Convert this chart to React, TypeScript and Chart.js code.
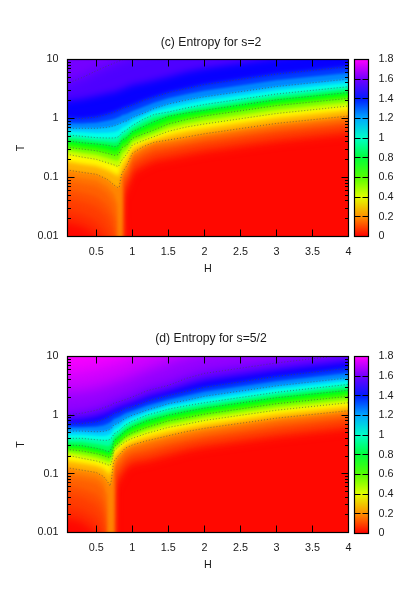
import React, { useEffect, useRef } from "react";
import { Chart, registerables } from "chart.js";

Chart.register(...registerables);

// ---------- shared axis values ----------
const xTickValues = [0.5, 1, 1.5, 2, 2.5, 3, 3.5, 4];
const yMajorTicks = [0.01, 0.1, 1, 10];
const yAllTicks = [
  0.01, 0.02, 0.03, 0.04, 0.05, 0.06, 0.07, 0.08, 0.09,
  0.1, 0.2, 0.3, 0.4, 0.5, 0.6, 0.7, 0.8, 0.9,
  1, 2, 3, 4, 5, 6, 7, 8, 9, 10,
];
const colorbarTicks = [0, 0.2, 0.4, 0.6, 0.8, 1, 1.2, 1.4, 1.6, 1.8];
const contourLevels = [0.2, 0.4, 0.6, 0.8, 1, 1.2, 1.4, 1.6];

// ---------- (c) s=2: log10(T) of each entropy contour, per H column ----------
const cH = [0.1, 0.3, 0.5, 0.65, 0.75, 0.8, 0.82, 0.835, 0.855, 0.92, 1, 1.15, 1.3, 1.5, 1.75, 2, 3, 4];
const cS160 = [0.597, 0.692, 0.81, 0.89, 0.941, 0.966, 0.975, 0.983, 0.992, 1.025, 1.059, 1.11, 1.161, 1.229, 1.314, 1.381, 1.551, 1.669];
const cS150 = [0.297, 0.331, 0.381, 0.424, 0.449, 0.466, 0.475, 0.483, 0.5, 0.525, 0.568, 0.602, 0.644, 0.703, 0.788, 0.847, 1.025, 1.144];
const cS140 = [0.003, 0, 0.025, 0.071, 0.11, 0.136, 0.144, 0.153, 0.169, 0.195, 0.229, 0.305, 0.364, 0.441, 0.508, 0.576, 0.754, 0.878];
const cS130 = [-0.081, -0.083, -0.071, -0.039, -0.007, 0.019, 0.027, 0.036, 0.053, 0.076, 0.122, 0.197, 0.266, 0.342, 0.41, 0.471, 0.647, 0.771];
const cS120 = [-0.166, -0.166, -0.166, -0.149, -0.122, -0.098, -0.088, -0.081, -0.064, -0.042, 0.017, 0.088, 0.169, 0.246, 0.314, 0.368, 0.542, 0.669];
const cS110 = [-0.224, -0.234, -0.246, -0.241, -0.227, -0.207, -0.193, -0.178, -0.153, -0.119, -0.051, 0.037, 0.119, 0.178, 0.246, 0.303, 0.48, 0.605];
const cS100 = [-0.28, -0.302, -0.325, -0.331, -0.331, -0.314, -0.297, -0.275, -0.241, -0.195, -0.119, -0.014, 0.068, 0.11, 0.178, 0.237, 0.415, 0.539];
const cS090 = [-0.331, -0.356, -0.38, -0.393, -0.405, -0.39, -0.368, -0.339, -0.303, -0.261, -0.171, -0.076, 0.007, 0.073, 0.136, 0.188, 0.366, 0.49];
const cS080 = [-0.381, -0.41, -0.432, -0.454, -0.478, -0.466, -0.437, -0.403, -0.364, -0.325, -0.224, -0.139, -0.054, 0.037, 0.093, 0.139, 0.317, 0.441];
const cS070 = [-0.432, -0.463, -0.488, -0.522, -0.551, -0.539, -0.508, -0.475, -0.429, -0.39, -0.28, -0.2, -0.124, -0.029, 0.037, 0.09, 0.268, 0.392];
const cS060 = [-0.488, -0.517, -0.546, -0.59, -0.624, -0.614, -0.58, -0.546, -0.495, -0.454, -0.336, -0.263, -0.195, -0.093, -0.017, 0.042, 0.219, 0.342];
const cS050 = [-0.542, -0.58, -0.614, -0.664, -0.703, -0.712, -0.681, -0.644, -0.593, -0.527, -0.392, -0.319, -0.251, -0.154, -0.08, -0.025, 0.153, 0.278];
const cS040 = [-0.607, -0.653, -0.692, -0.749, -0.788, -0.817, -0.788, -0.749, -0.703, -0.607, -0.449, -0.376, -0.308, -0.217, -0.144, -0.093, 0.085, 0.212];
const cS030 = [-0.729, -0.771, -0.805, -0.873, -0.932, -0.975, -0.941, -0.873, -0.797, -0.686, -0.508, -0.424, -0.356, -0.288, -0.22, -0.169, 0.008, 0.136];
const cS020 = [-0.873, -0.912, -0.946, -1.031, -1.132, -1.173, -1.156, -1.042, -0.929, -0.805, -0.59, -0.478, -0.403, -0.364, -0.314, -0.259, -0.083, 0.042];
const cS0175 = [-0.966, -1.007, -1.045, -1.147, -1.282, -1.46, -4, -4, -0.985, -0.856, -0.634, -0.519, -0.441, -0.402, -0.352, -0.295, -0.122, 0.004];
const cS015 = [-1.059, -1.102, -1.144, -1.263, -1.432, -1.754, -4, -4, -1.042, -0.907, -0.678, -0.56, -0.48, -0.44, -0.39, -0.33, -0.16, -0.035];
const cS0125 = [-1.203, -1.25, -1.313, -1.458, -1.678, -2.12, -4, -4, -1.11, -0.957, -0.724, -0.61, -0.527, -0.482, -0.427, -0.372, -0.2, -0.072];
const cS010 = [-1.347, -1.398, -1.483, -1.653, -1.924, -2.483, -4, -4, -1.178, -1.008, -0.771, -0.66, -0.575, -0.525, -0.465, -0.415, -0.24, -0.11];
const cS0075 = [-1.55, -1.61, -1.72, -1.94, -2.29, -3.1, -4, -4, -1.26, -1.09, -0.85, -0.74, -0.655, -0.607, -0.548, -0.492, -0.32, -0.187];
const cS005 = [-1.754, -1.822, -1.958, -2.229, -2.653, -3.754, -4, -4, -1.347, -1.178, -0.924, -0.82, -0.735, -0.69, -0.63, -0.57, -0.4, -0.265];
const cLevels: [number, number[]][] = [
  [1.6, cS160], [1.5, cS150], [1.4, cS140], [1.3, cS130], [1.2, cS120], [1.1, cS110],
  [1, cS100], [0.9, cS090], [0.8, cS080], [0.7, cS070], [0.6, cS060], [0.5, cS050],
  [0.4, cS040], [0.3, cS030], [0.2, cS020], [0.175, cS0175], [0.15, cS015], [0.125, cS0125],
  [0.1, cS010], [0.075, cS0075], [0.05, cS005],
];

// ---------- (d) s=5/2 ----------
const dH = [0.1, 0.3, 0.5, 0.6, 0.66, 0.69, 0.71, 0.725, 0.74, 0.81, 0.9, 1, 1.2, 1.5, 1.75, 2, 3, 4];
const dS178 = [0.85, 0.88, 0.93, 0.96, 0.98, 0.99, 1, 1.005, 1.02, 1.04, 1.08, 1.12, 1.373, 1.508, 1.61, 1.695, 1.881, 2.017];
const dS175 = [0.661, 0.695, 0.746, 0.78, 0.797, 0.805, 0.814, 0.822, 0.831, 0.856, 0.898, 0.949, 1.051, 1.186, 1.288, 1.373, 1.559, 1.695];
const dS170 = [0.39, 0.407, 0.458, 0.492, 0.508, 0.517, 0.525, 0.534, 0.542, 0.576, 0.61, 0.661, 0.763, 0.898, 1, 1.085, 1.271, 1.407];
const dS160 = [0.008, 0.034, 0.085, 0.127, 0.153, 0.164, 0.175, 0.186, 0.203, 0.229, 0.263, 0.31, 0.415, 0.508, 0.627, 0.712, 0.89, 1.034];
const dS150 = [-0.068, -0.059, -0.017, 0.025, 0.051, 0.068, 0.076, 0.093, 0.114, 0.141, 0.186, 0.22, 0.322, 0.424, 0.508, 0.593, 0.771, 0.915];
const dS140 = [-0.141, -0.141, -0.114, -0.073, -0.034, -0.017, -0.005, 0.012, 0.029, 0.056, 0.114, 0.144, 0.237, 0.334, 0.407, 0.475, 0.661, 0.802];
const dS130 = [-0.207, -0.207, -0.198, -0.175, -0.147, -0.127, -0.114, -0.093, -0.071, -0.037, 0.029, 0.071, 0.161, 0.264, 0.331, 0.398, 0.58, 0.719];
const dS120 = [-0.271, -0.271, -0.283, -0.276, -0.259, -0.237, -0.22, -0.198, -0.169, -0.131, -0.056, 0, 0.085, 0.195, 0.254, 0.322, 0.5, 0.636];
const dS110 = [-0.332, -0.332, -0.351, -0.353, -0.344, -0.325, -0.305, -0.285, -0.246, -0.2, -0.112, -0.051, 0.042, 0.149, 0.208, 0.268, 0.446, 0.581];
const dS100 = [-0.395, -0.395, -0.419, -0.429, -0.429, -0.412, -0.39, -0.373, -0.322, -0.271, -0.169, -0.102, 0, 0.102, 0.161, 0.212, 0.39, 0.525];
const dS090 = [-0.451, -0.458, -0.492, -0.512, -0.525, -0.512, -0.478, -0.451, -0.381, -0.319, -0.22, -0.149, -0.047, 0.051, 0.112, 0.166, 0.344, 0.475];
const dS080 = [-0.508, -0.52, -0.564, -0.593, -0.622, -0.61, -0.564, -0.531, -0.441, -0.368, -0.271, -0.198, -0.097, 0, 0.063, 0.119, 0.297, 0.424];
const dS070 = [-0.546, -0.564, -0.61, -0.641, -0.666, -0.666, -0.62, -0.581, -0.493, -0.419, -0.319, -0.249, -0.153, -0.047, 0.01, 0.068, 0.246, 0.373];
const dS060 = [-0.585, -0.61, -0.656, -0.69, -0.712, -0.724, -0.678, -0.632, -0.547, -0.469, -0.368, -0.3, -0.208, -0.097, -0.042, 0.017, 0.195, 0.322];
const dS050 = [-0.634, -0.671, -0.717, -0.754, -0.78, -0.792, -0.739, -0.683, -0.585, -0.503, -0.41, -0.347, -0.259, -0.153, -0.097, -0.036, 0.141, 0.268];
const dS040 = [-0.683, -0.734, -0.78, -0.819, -0.847, -0.859, -0.802, -0.734, -0.622, -0.537, -0.453, -0.395, -0.31, -0.208, -0.153, -0.09, 0.085, 0.212];
const dS030 = [-0.78, -0.819, -0.864, -0.915, -0.983, -1.025, -0.932, -0.814, -0.695, -0.61, -0.508, -0.449, -0.373, -0.28, -0.215, -0.158, 0.017, 0.144];
const dS020 = [-0.898, -0.937, -0.978, -1.046, -1.141, -1.208, -1.102, -0.932, -0.792, -0.69, -0.564, -0.508, -0.436, -0.351, -0.28, -0.225, -0.051, 0.076];
const dS0175 = [-0.983, -1.02, -1.065, -1.158, -1.375, -4, -4, -4, -0.862, -0.743, -0.612, -0.55, -0.485, -0.395, -0.328, -0.27, -0.093, 0.038];
const dS015 = [-1.068, -1.102, -1.153, -1.271, -1.61, -4, -4, -4, -0.932, -0.797, -0.661, -0.593, -0.535, -0.44, -0.375, -0.315, -0.135, 0];
const dS0125 = [-1.2, -1.246, -1.33, -1.483, -1.86, -4, -4, -4, -1, -0.865, -0.712, -0.644, -0.59, -0.49, -0.42, -0.36, -0.182, -0.034];
const dS010 = [-1.339, -1.39, -1.508, -1.695, -2.119, -4, -4, -4, -1.068, -0.932, -0.763, -0.695, -0.645, -0.54, -0.465, -0.405, -0.23, -0.085];
const dS0075 = [-1.54, -1.6, -1.75, -1.99, -2.54, -4, -4, -4, -1.17, -1.017, -0.84, -0.763, -0.72, -0.618, -0.538, -0.478, -0.303, -0.163];
const dS005 = [-1.746, -1.814, -2, -2.288, -2.966, -4, -4, -4, -1.271, -1.102, -0.915, -0.831, -0.795, -0.695, -0.61, -0.55, -0.375, -0.24];
const dLevels: [number, number[]][] = [
  [1.78, dS178], [1.75, dS175], [1.7, dS170], [1.6, dS160], [1.5, dS150], [1.4, dS140], [1.3, dS130],
  [1.2, dS120], [1.1, dS110], [1, dS100], [0.9, dS090], [0.8, dS080], [0.7, dS070], [0.6, dS060],
  [0.5, dS050], [0.4, dS040], [0.3, dS030], [0.2, dS020], [0.175, dS0175], [0.15, dS015],
  [0.125, dS0125], [0.1, dS010], [0.075, dS0075], [0.05, dS005],
];

const FONT = "'Liberation Sans', Arial, sans-serif";
const FONT_SIZE = 10.8;
const TITLE_SIZE = 12.2;
const INK = "#1a1a1a";

// Rainbow palette: hue runs red to magenta over the colour-box range 0..1.8
const paletteColor = (s: number) => `hsl(${(s / 1.8) * 300}, 100%, 50%)`;

// wide bands get a soft edge so the colour ramps without visible steps
const softness = (s: number) => {
  if (s <= 0.05) return 4;
  if (s <= 0.075) return 3.5;
  if (s <= 0.1) return 3;
  if (s <= 0.125) return 2.5;
  if (s <= 0.15) return 2;
  if (s <= 0.175) return 1.5;
  if (s <= 0.2) return 1.8;
  if (s <= 0.3) return 2;
  if (s <= 0.4) return 1.5;
  if (s <= 1.3) return 1.2;
  if (s <= 1.4) return 2;
  if (s <= 1.5) return 3.5;
  return 6;
};

const crisp = (p: number) => Math.floor(p) + 0.5;

function points(H: number[], logT: number[]) {
  const pts = H.map((h, i) => ({ x: h, y: Math.pow(10, logT[i]) }));
  // carried past the frame so the soft edge falls outside the clipped area
  return [{ x: H[0] - 0.3, y: pts[0].y }, ...pts, { x: H[H.length - 1] + 0.3, y: pts[pts.length - 1].y }];
}

const filterFor = (chart: any, index: number) => {
  const ds = chart.data.datasets[index];
  return ds && ds.soft ? `blur(${ds.soft}px)` : "none";
};

const heatPlugin = {
  id: "heat",
  beforeDatasetsDraw(chart: any) {
    const { ctx, chartArea: a } = chart;
    ctx.save();
    ctx.fillStyle = paletteColor(0.012);
    ctx.fillRect(a.left, a.top, a.right - a.left, a.bottom - a.top);
    ctx.restore();
    // datasets are painted from the last index to the first
    ctx.filter = filterFor(chart, chart.data.datasets.length - 1);
  },
  afterDatasetDraw(chart: any, args: any) {
    chart.ctx.filter = filterFor(chart, args.index - 1);
  },
  afterDatasetsDraw(chart: any) {
    const { ctx, chartArea: a, scales } = chart;
    ctx.filter = "none";
    ctx.save();
    ctx.strokeStyle = "#000";
    ctx.lineWidth = 1;
    ctx.beginPath();
    const l = crisp(a.left), r = crisp(a.right), t = crisp(a.top), b = crisp(a.bottom);
    for (const v of yAllTicks) {
      const y = crisp(scales.y.getPixelForValue(v));
      const len = yMajorTicks.includes(v) ? 7 : 3.5;
      ctx.moveTo(l, y); ctx.lineTo(l + len, y);
      ctx.moveTo(r, y); ctx.lineTo(r - len, y);
    }
    for (const v of xTickValues) {
      const x = crisp(scales.x.getPixelForValue(v));
      ctx.moveTo(x, b); ctx.lineTo(x, b - 7);
      ctx.moveTo(x, t); ctx.lineTo(x, t + 7);
    }
    ctx.stroke();
    ctx.lineWidth = 1.2;
    ctx.strokeRect(l, t, r - l, b - t);
    ctx.restore();
  },
};

const barFramePlugin = {
  id: "barFrame",
  afterDatasetsDraw(chart: any) {
    const { ctx, chartArea: a, scales } = chart;
    ctx.save();
    ctx.strokeStyle = "#000";
    ctx.lineWidth = 1;
    ctx.beginPath();
    const l = crisp(a.left), r = crisp(a.right), t = crisp(a.top), b = crisp(a.bottom);
    for (const v of colorbarTicks.slice(1, -1)) {
      const y = crisp(scales.y.getPixelForValue(v));
      ctx.moveTo(l, y); ctx.lineTo(l + 6, y);
      ctx.moveTo(r, y); ctx.lineTo(r - 6, y);
    }
    ctx.stroke();
    ctx.lineWidth = 1.2;
    ctx.strokeRect(l, t, r - l, b - t);
    ctx.restore();
  },
};

function makePlot(canvas: HTMLCanvasElement, H: number[], levels: [number, number[]][], titleText: string, areaTop: number, maxS: number) {
  const contourSets = levels
    .filter(([s]) => contourLevels.includes(s))
    .map(([s, logT]) => ({
      label: `S=${s}`,
      data: points(H, logT),
      fill: false,
      borderColor: "rgba(70,70,70,0.6)",
      borderWidth: 1,
      borderDash: [1, 2],
      pointRadius: 0,
      tension: 0,
    }));
  const bandSets = levels.map(([s, logT], i) => {
    const upper = i === 0 ? maxS : levels[i - 1][0];
    return {
      label: `band ${s}`,
      soft: softness(s),
      data: points(H, logT),
      fill: { target: { value: 1e5 } },
      backgroundColor: paletteColor((s + upper) / 2),
      borderWidth: 0,
      pointRadius: 0,
      tension: 0,
    };
  });
  return new Chart(canvas, {
    type: "line",
    data: { datasets: [...contourSets, ...bandSets] as any },
    plugins: [heatPlugin],
    options: {
      responsive: false,
      animation: false,
      layout: { padding: 0 },
      plugins: {
        legend: { display: false },
        tooltip: { enabled: false },
        title: {
          display: true,
          text: titleText,
          color: INK,
          font: { family: FONT, size: TITLE_SIZE, weight: "normal", lineHeight: 1.2 },
          padding: { top: 35, bottom: areaTop - 49.64 },
        },
      },
      scales: {
        x: {
          type: "linear",
          min: 0.1,
          max: 4,
          afterBuildTicks: (s: any) => { s.ticks = xTickValues.map((value) => ({ value })); },
          afterFit: (s: any) => { s.height = 59.5; },
          grid: { display: false, drawTicks: false },
          border: { display: false },
          ticks: { autoSkip: false, maxRotation: 0, color: INK, padding: 9, font: { family: FONT, size: FONT_SIZE }, callback: (v: any) => String(v) },
          title: { display: true, text: "H", color: INK, font: { family: FONT, size: FONT_SIZE, lineHeight: 1.2 }, padding: { top: 0, bottom: 20 } },
        },
        y: {
          type: "logarithmic",
          min: 0.01,
          max: 10,
          afterBuildTicks: (s: any) => { s.ticks = yAllTicks.map((value) => ({ value, major: yMajorTicks.includes(value) })); },
          afterFit: (s: any) => { s.width = 63.5; },
          grid: { display: false, drawTicks: false },
          border: { display: false },
          ticks: { autoSkip: false, color: INK, padding: 9, font: { family: FONT, size: FONT_SIZE }, callback: (v: any) => (yMajorTicks.includes(v) ? String(v) : "") },
          title: { display: true, text: "T", color: INK, font: { family: FONT, size: FONT_SIZE, lineHeight: 1.2 }, padding: { top: 11, bottom: 0 } },
        },
        // empty right-hand box: keeps room for the colour box while the title centres on the whole canvas
        spacer: {
          type: "linear",
          position: "right",
          afterFit: (s: any) => { s.width = 69.5; },
          grid: { display: false, drawTicks: false },
          border: { display: false },
          ticks: { display: false },
        },
      },
    } as any,
  });
}

function makeBar(canvas: HTMLCanvasElement, areaTop: number, canvasHeight: number, areaBottom: number) {
  const fillGradient = (ctx: any) => {
    const a = ctx.chart.chartArea;
    if (!a) return paletteColor(0);
    const g = ctx.chart.ctx.createLinearGradient(0, a.bottom, 0, a.top);
    for (const s of colorbarTicks) g.addColorStop(s / 1.8, paletteColor(s));
    return g;
  };
  return new Chart(canvas, {
    type: "bar",
    data: { labels: ["S"], datasets: [{ label: "S", data: [[0, 1.8]] as any, backgroundColor: fillGradient as any, barPercentage: 1, categoryPercentage: 1, borderWidth: 0 }] },
    plugins: [barFramePlugin],
    options: {
      responsive: false,
      animation: false,
      layout: { padding: { left: 9, right: 0, top: areaTop, bottom: canvasHeight - areaBottom } },
      plugins: { legend: { display: false }, tooltip: { enabled: false } },
      scales: {
        x: { display: false },
        y: {
          position: "right",
          min: 0,
          max: 1.8,
          afterBuildTicks: (s: any) => { s.ticks = colorbarTicks.map((value) => ({ value })); },
          afterFit: (s: any) => { s.width = 46.5; },
          grid: { display: false, drawTicks: false },
          border: { display: false },
          ticks: { autoSkip: false, color: INK, padding: 10, font: { family: FONT, size: FONT_SIZE }, callback: (v: any) => String(v) },
        },
      },
    } as any,
  });
}

export default function App() {
  const c1 = useRef<HTMLCanvasElement>(null);
  const c2 = useRef<HTMLCanvasElement>(null);
  const b1 = useRef<HTMLCanvasElement>(null);
  const b2 = useRef<HTMLCanvasElement>(null);
  useEffect(() => {
    const charts = [
      makePlot(c1.current!, cH, cLevels, "(c) Entropy for s=2", 59.5, 1.609),
      makePlot(c2.current!, dH, dLevels, "(d) Entropy for s=5/2", 60.5, 1.8),
      makeBar(b1.current!, 59.5, 296, 236.5),
      makeBar(b2.current!, 60.5, 296, 237.5),
    ];
    return () => charts.forEach((c) => c.destroy());
  }, []);
  const abs = (left: number, top: number): React.CSSProperties => ({ position: "absolute", left, top, display: "block" });
  return (
    <div style={{ position: "fixed", left: 0, top: 0, width: 415, height: 593, overflow: "hidden", background: "#fff" }}>
      <canvas ref={c1} width={414} height={296} style={abs(4, 0)} />
      <canvas ref={c2} width={414} height={296} style={abs(4, 296)} />
      <canvas ref={b1} width={70} height={296} style={abs(345, 0)} />
      <canvas ref={b2} width={70} height={296} style={abs(345, 296)} />
    </div>
  );
}
